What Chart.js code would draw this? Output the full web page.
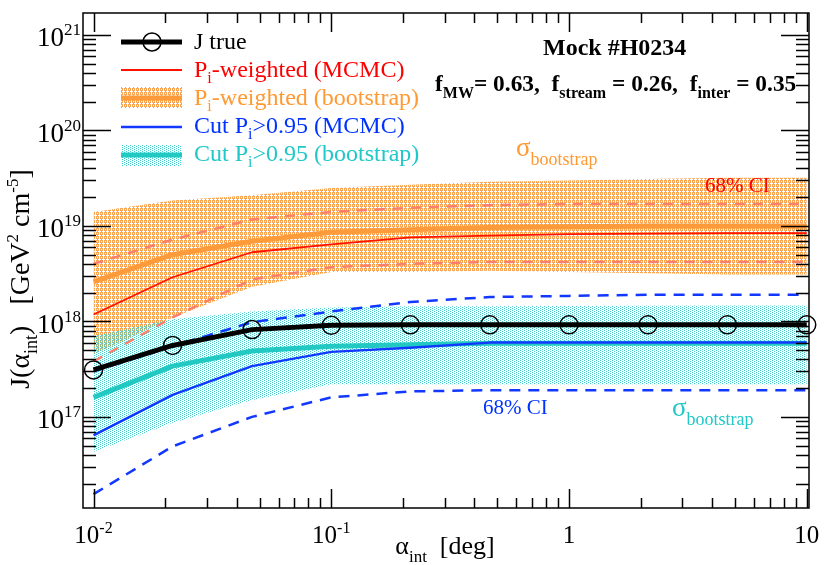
<!DOCTYPE html>
<html>
<head>
<meta charset="utf-8">
<script src="https://cdn.jsdelivr.net/npm/chart.js@4"></script>
<style>
  body { margin: 0; background: #fff; }
  #wrap { position: relative; width: 830px; height: 565px; font-family: "Liberation Serif", "Times New Roman", serif; }
  #wrap canvas { position: absolute; left: 0; top: 0; }
  .t { position: absolute; white-space: nowrap; line-height: 1; }
  .s { position: relative; }
</style>
</head>
<body>
<div id="wrap"><canvas id="c" width="830" height="565"></canvas></div>
<script>
// angular integration radius [deg]
const alpha = [0.01, 0.0215, 0.0464, 0.1, 0.215, 0.464, 1, 2.15, 4.64, 10];

const jTrue = [3.1e17, 5.6e17, 8.2e17, 9.1e17, 9.2e17, 9.2e17, 9.2e17, 9.2e17, 9.2e17, 9.2e17];

// P_i-weighted
const wMcmc   = [1.18e18, 2.9e18, 5.3e18, 6.4e18, 7.6e18, 7.9e18, 8.2e18, 8.3e18, 8.4e18, 8.4e18];
const wMcmcHi = [4.0e18, 7.2e18, 1.17e19, 1.4e19, 1.55e19, 1.65e19, 1.7e19, 1.7e19, 1.7e19, 1.7e19];
const wMcmcLo = [3.8e17, 1.1e18, 2.75e18, 3.7e18, 4.0e18, 4.2e18, 4.2e18, 4.2e18, 4.2e18, 4.2e18];
const wBoot   = [2.6e18, 5.0e18, 6.9e18, 8.6e18, 9.1e18, 9.6e18, 9.8e18, 1.0e19, 1.0e19, 1.0e19];
const wBootHi = [1.4e19, 1.85e19, 2.1e19, 2.5e19, 2.7e19, 2.9e19, 3.0e19, 3.1e19, 3.2e19, 3.2e19];
const wBootLo = [4.5e17, 1.1e18, 2.3e18, 3.3e18, 3.3e18, 3.4e18, 3.3e18, 3.2e18, 3.1e18, 3.1e18];

// Cut P_i > 0.95
const cMcmc   = [6.4e16, 1.7e17, 3.4e17, 4.8e17, 5.3e17, 6.0e17, 6.0e17, 6.0e17, 6.0e17, 6.0e17];
const cMcmcHi = [3.0e17, 5.5e17, 9.8e17, 1.27e18, 1.6e18, 1.8e18, 1.85e18, 1.9e18, 1.9e18, 1.9e18];
const cMcmcLo = [1.55e16, 4.9e16, 1.0e17, 1.6e17, 1.85e17, 1.9e17, 1.9e17, 1.9e17, 1.9e17, 1.9e17];
const cBoot   = [1.6e17, 3.4e17, 4.9e17, 5.5e17, 5.7e17, 5.9e17, 5.9e17, 5.9e17, 5.9e17, 5.9e17];
const cBootHi = [7.0e17, 1.05e18, 1.27e18, 1.4e18, 1.44e18, 1.44e18, 1.45e18, 1.46e18, 1.47e18, 1.47e18];
const cBootLo = [4.3e16, 8.7e16, 1.5e17, 2.2e17, 2.2e17, 2.2e17, 2.2e17, 2.2e17, 2.2e17, 2.2e17];

const xTickLabels = ['10<span class="s" style="font-size:16px;top:-10px">-2</span>',
                     '10<span class="s" style="font-size:16px;top:-10px">-1</span>', '1', '10'];
const xTickValues = [0.01, 0.1, 1, 10];
const yTickValues = [1e17, 1e18, 1e19, 1e20, 1e21];
const yTickExp = ['17', '18', '19', '20', '21'];

const ORANGE = '#fd9a3a', RED = '#ff1200', SALMON = '#fa7f6c';
const BLUE = '#1238ff', CYAN = '#22c8c2';

function stipple(color, cells) {
  const c = document.createElement('canvas');
  c.width = 4; c.height = 4;
  const g = c.getContext('2d');
  g.fillStyle = color;
  cells.forEach(([i, j]) => g.fillRect(i, j, 1, 1));
  return g.createPattern(c, 'repeat');
}
const orangeDots = stipple('#fca550', [[0,0],[1,0],[2,0],[0,1],[2,1],[0,2],[1,2],[2,2],[1,3]]);
const cyanDots = stipple('#3ccfcc', [[0,0],[0,2],[2,1],[2,3]]);

const pts = arr => arr.map((v, i) => ({ x: alpha[i], y: v }));
const base = { pointRadius: 0, tension: 0, fill: false, borderJoinStyle: 'round' };

const datasets = [
  // bands first (index matters for '+1' fill)
  Object.assign({}, base, { label: 'wBootHi', data: pts(wBootHi), borderWidth: 0, fill: '+1', backgroundColor: orangeDots, order: 20 }),
  Object.assign({}, base, { label: 'wBootLo', data: pts(wBootLo), borderWidth: 0, order: 20 }),
  Object.assign({}, base, { label: 'cBootHi', data: pts(cBootHi), borderWidth: 0, fill: '+1', backgroundColor: cyanDots, order: 19 }),
  Object.assign({}, base, { label: 'cBootLo', data: pts(cBootLo), borderWidth: 0, order: 19 }),
  Object.assign({}, base, { label: 'wMcmcHi', data: pts(wMcmcHi), borderColor: SALMON, borderWidth: 2.5, borderDash: [10, 8], order: 8 }),
  Object.assign({}, base, { label: 'wMcmcLo', data: pts(wMcmcLo), borderColor: SALMON, borderWidth: 2.5, borderDash: [10, 8], order: 8 }),
  Object.assign({}, base, { label: 'cMcmcHi', data: pts(cMcmcHi), borderColor: BLUE, borderWidth: 2.5, borderDash: [11, 8], order: 7 }),
  Object.assign({}, base, { label: 'cMcmcLo', data: pts(cMcmcLo), borderColor: BLUE, borderWidth: 2.5, borderDash: [11, 8], order: 7 }),
  Object.assign({}, base, { label: 'wBoot', data: pts(wBoot), borderColor: ORANGE, borderWidth: 5, order: 6 }),
  Object.assign({}, base, { label: 'cBoot', data: pts(cBoot), borderColor: CYAN, borderWidth: 5, order: 5 }),
  Object.assign({}, base, { label: 'wMcmc', data: pts(wMcmc), borderColor: RED, borderWidth: 1.8, order: 4 }),
  Object.assign({}, base, { label: 'cMcmc', data: pts(cMcmc), borderColor: BLUE, borderWidth: 2.4, order: 3 }),
  Object.assign({}, base, { label: 'J true', data: pts(jTrue), borderColor: '#000', borderWidth: 5,
    pointRadius: 9, pointBorderWidth: 1.5, pointBorderColor: '#000', pointBackgroundColor: 'rgba(0,0,0,0)',
    clip: 12, order: 0 }),
];

// frame, inward log ticks and legend swatches
const frame = {
  id: 'frame',
  afterDatasetsDraw(chart) {
    const { ctx, chartArea: a, scales: { x, y } } = chart;
    ctx.save();
    ctx.strokeStyle = '#000';
    ctx.lineWidth = 1.5;
    const seg = (x1, y1, x2, y2) => { ctx.beginPath(); ctx.moveTo(x1, y1); ctx.lineTo(x2, y2); ctx.stroke(); };
    for (let e = -3; e <= 1; e++) for (let m = 1; m <= 9; m++) {
      const v = m * Math.pow(10, e);
      if (v < x.min || v > x.max) continue;
      const p = Math.round(x.getPixelForValue(v)) + 0.5, len = m === 1 ? 19 : 10;
      seg(p, a.bottom, p, a.bottom - len); seg(p, a.top, p, a.top + len);
    }
    for (let e = 16; e <= 21; e++) for (let m = 1; m <= 9; m++) {
      const v = m * Math.pow(10, e);
      if (v < y.min || v > y.max) continue;
      const p = Math.round(y.getPixelForValue(v)) + 0.5, len = m === 1 ? 28 : 13;
      seg(a.left, p, a.left + len, p); seg(a.right, p, a.right - len, p);
    }
    ctx.strokeRect(a.left, a.top, a.right - a.left, a.bottom - a.top);

    // legend swatches
    ctx.lineCap = 'butt';
    ctx.fillStyle = orangeDots; ctx.fillRect(121, 87, 61, 21);
    ctx.fillStyle = cyanDots; ctx.fillRect(121, 145, 61, 21);
    const sw = (yy, col, w) => { ctx.strokeStyle = col; ctx.lineWidth = w; seg(121, yy, 182, yy); };
    sw(42, '#000', 5); sw(70, RED, 1.8); sw(98, ORANGE, 5); sw(127, BLUE, 2.4); sw(155, CYAN, 5);
    ctx.strokeStyle = '#000'; ctx.lineWidth = 1.5;
    ctx.beginPath(); ctx.arc(152, 42, 9, 0, Math.PI * 2); ctx.stroke();
    ctx.restore();
  }
};

const noTicks = { display: false };
const chart = new Chart(document.getElementById('c'), {
  type: 'line',
  data: { datasets },
  options: {
    responsive: false,
    animation: false,
    layout: { padding: { left: 83, top: 13, right: 21, bottom: 57 } },
    plugins: { legend: { display: false }, tooltip: { enabled: false } },
    scales: {
      x: { type: 'logarithmic', min: 0.00903, max: 10.22,
           ticks: noTicks, grid: { display: false }, border: { display: false },
           afterFit: s => { s.height = 0; } },
      y: { type: 'logarithmic', min: 1.11e16, max: 1.70e21,
           ticks: noTicks, grid: { display: false }, border: { display: false },
           afterFit: s => { s.width = 0; } },
    },
  },
  plugins: [frame],
});

// text overlays
const wrap = document.getElementById('wrap');
function text(html, x, baseline, size, opts = {}) {
  const d = document.createElement('div');
  d.className = 't';
  d.innerHTML = html;
  d.style.fontSize = size + 'px';
  d.style.top = (baseline - 0.84 * size) + 'px';
  d.style.left = x + 'px';
  if (opts.color) d.style.color = opts.color;
  if (opts.bold) d.style.fontWeight = 'bold';
  if (opts.align === 'center') d.style.transform = 'translateX(-50%)';
  if (opts.align === 'right') d.style.transform = 'translateX(-100%)';
  wrap.appendChild(d);
  return d;
}
const sub = (t, size, dy) => `<span class="s" style="font-size:${size}px;top:${dy}px">${t}</span>`;

const xs = chart.scales.x, ys = chart.scales.y;
xTickValues.forEach((v, i) => text(xTickLabels[i], xs.getPixelForValue(v), 543, 25, { align: 'center' }));
yTickValues.forEach((v, i) =>
  text('10' + sub(yTickExp[i], 17, -11), 81, ys.getPixelForValue(v) + 12, 27, { align: 'right' }));

text('&alpha;' + sub('int', 17, 8) + '&nbsp; [deg]', 445, 555, 26, { align: 'center' });

const yt = text('J(&alpha;' + sub('int', 18, 8) + ')&nbsp;&nbsp; [GeV' + sub('2', 17, -11) + ' cm' + sub('-5', 17, -11) + ']', 0, 0, 28);
yt.style.left = '20px'; yt.style.top = '279px';
yt.style.transform = 'translate(-50%, -50%) rotate(-90deg)';

// legend
const LG = 24;
text('J true', 194, 49, LG);
text('P' + sub('i', 16, 6) + '-weighted (MCMC)', 194, 77, LG, { color: '#ff0000' });
text('P' + sub('i', 16, 6) + '-weighted (bootstrap)', 194, 105, LG, { color: '#ff9933' });
text('Cut P' + sub('i', 16, 6) + '&gt;0.95 (MCMC)', 194, 133, LG, { color: '#0033ff' });
text('Cut P' + sub('i', 16, 6) + '&gt;0.95 (bootstrap)', 194, 161, LG, { color: '#20c8c8' });

// annotations
text('Mock #H0234', 543, 55, 24, { bold: true });
text('f' + sub('MW', 16, 7) + '= 0.63,&nbsp; f' + sub('stream', 16, 7) + ' = 0.26,&nbsp; f' + sub('inter', 16, 7) + ' = 0.35',
     435, 92, 23.4, { bold: true });
text('&sigma;' + sub('bootstrap', 18, 9), 516, 157, 27, { color: '#ff9933' });
text('68% CI', 705, 193, 21, { color: '#ff0000' });
text('68% CI', 483, 415, 21, { color: '#0033ff' });
text('&sigma;' + sub('bootstrap', 18, 9), 672, 417, 27, { color: '#20c8c8' });
</script>
</body>
</html>
